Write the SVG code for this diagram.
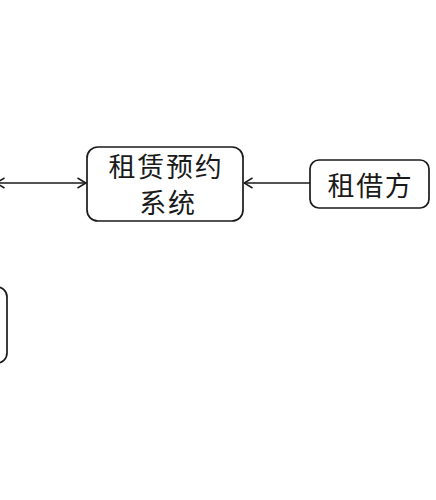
<svg xmlns="http://www.w3.org/2000/svg" width="436" height="500" viewBox="0 0 436 500">
  <style>
    .box { fill: #ffffff; stroke: #1a1a1a; stroke-width: 1.7; }
    .lbl { font-family: "Noto Sans CJK SC", "Liberation Sans", sans-serif; font-size: 27px; fill: #1a1a1a; letter-spacing: 1.7px; text-anchor: middle; }
    .conn { stroke: #1a1a1a; stroke-width: 1.5; fill: none; }
  </style>
  <defs>
    <marker id="arr" viewBox="0 0 10 12" refX="9.5" refY="6" markerWidth="10" markerHeight="12" markerUnits="userSpaceOnUse" orient="auto-start-reverse">
      <path d="M1,1 L9.5,6 L1,11" fill="none" stroke="#1a1a1a" stroke-width="1.5"/>
    </marker>
  </defs>
  <rect width="436" height="500" fill="#ffffff"/>
  <g id="connectors">
    <line class="conn" x1="-4" y1="183" x2="86" y2="183" marker-start="url(#arr)" marker-end="url(#arr)"/>
    <line class="conn" x1="310" y1="183" x2="244" y2="183" marker-end="url(#arr)"/>
  </g>
  <g id="node-system">
    <rect class="box" x="87" y="147" width="156" height="74" rx="11"/>
    <text class="lbl" x="166" y="176.5">租赁预约</text>
    <text class="lbl" x="168" y="212.5">系统</text>
  </g>
  <g id="node-renter">
    <rect class="box" x="310" y="160" width="119" height="48" rx="9"/>
    <text class="lbl" x="370.5" y="195.5">租借方</text>
  </g>
  <g id="node-left-bottom">
    <rect class="box" x="-100" y="287" width="107" height="76" rx="10"/>
  </g>
</svg>
